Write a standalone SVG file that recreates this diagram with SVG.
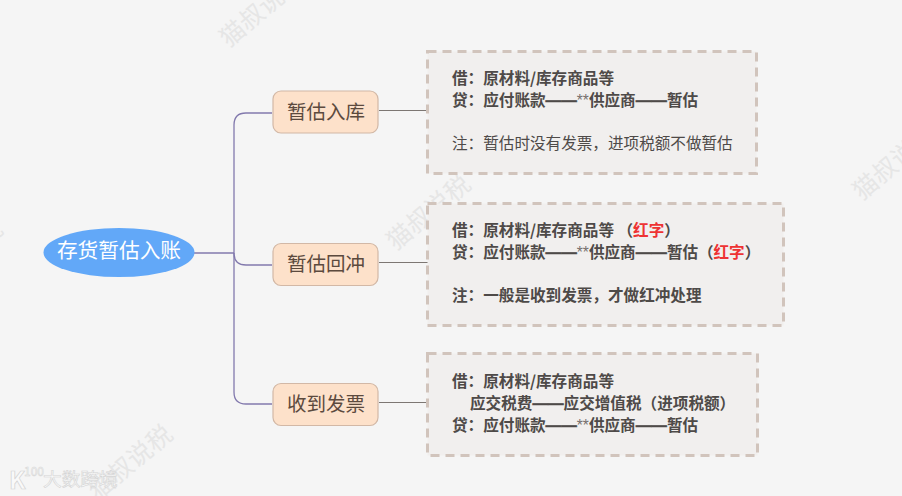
<svg xmlns="http://www.w3.org/2000/svg" width="902" height="496" viewBox="0 0 902 496">
<defs>
<style>
text{font-family:"Noto Sans CJK SC","Liberation Sans",sans-serif}
.wm{font-size:25px;fill:#e6e6e6;text-anchor:middle}
.note{fill:#f1efee;stroke:#d1c4bc;stroke-width:3;stroke-dasharray:9 6}
.t{font-size:15.6px;fill:#4e4a48;font-weight:700}
.n{font-size:15.6px;fill:#4e4a48;font-weight:400}
.r{fill:#ee3333}
.d{font-family:"Liberation Sans",sans-serif;stroke:#4e4a48;stroke-width:.4}
.s{font-family:"Liberation Sans",sans-serif;font-weight:400;fill:#77716e}
.topic{fill:#fde1ca;stroke:#d2b8a6;stroke-width:1.2}
.tt{font-size:19.5px;fill:#5c4a3e;text-anchor:middle}
.c1{fill:none;stroke:#8279ad;stroke-width:1.3}
.c2{fill:none;stroke:#7d7773;stroke-width:1.2}
.lg{fill:#f9f9f9;stroke:#d4d4d4}
</style>
</defs>
<rect width="902" height="496" fill="#f5f5f5"/>
<g id="watermarks">
<text class="wm" transform="translate(267 16) rotate(-40)">猫叔说税</text>
<text class="wm" transform="translate(434 219) rotate(-40)">猫叔说税</text>
<text class="wm" transform="translate(601 417) rotate(-40)">猫叔说税</text>
<text class="wm" transform="translate(900 169) rotate(-40)">猫叔说税</text>
<text class="wm" transform="translate(136 469) rotate(-40)">猫叔说税</text>
<text class="wm" transform="translate(-34 264) rotate(-40)">猫叔说税</text>
<text class="lg" x="43" y="486" font-size="18.700" stroke-width="0.6">大数跨境</text>
<text class="lg" x="9" y="489" font-size="24" font-weight="700" stroke-width="0.7">K</text>
<text class="lg" x="24" y="476" font-size="12" stroke-width="0.5">100</text>
</g>
<g id="connectors">
<path class="c1" d="M194 253H234"/>
<path class="c1" d="M272 113H246Q234 113 234 125V392Q234 404 246 404H272"/>
<path class="c1" d="M234 253Q234 265 246 265H272"/>
<path class="c2" d="M379 110.500H440"/>
<path class="c2" d="M379 262.500H440"/>
<path class="c2" d="M379 402.500H440"/>
</g>
<g id="root">
<ellipse cx="119" cy="252.500" rx="75.500" ry="24.500" fill="#62a8f8"/>
<text x="119" y="258" font-size="20.700" fill="#fff" text-anchor="middle">存货暂估入账</text>
</g>
<g id="topic1">
<rect class="topic" x="273" y="91" width="105" height="42" rx="8"/>
<text class="tt" x="326" y="119">暂估入库</text>
</g>
<g id="topic2">
<rect class="topic" x="273" y="243.500" width="105" height="42" rx="8"/>
<text class="tt" x="326" y="271">暂估回冲</text>
</g>
<g id="topic3">
<rect class="topic" x="273" y="383.500" width="105" height="42" rx="8"/>
<text class="tt" x="326" y="411">收到发票</text>
</g>
<g id="note1">
<rect class="note" x="427.500" y="51.500" width="329" height="122"/>
<text class="t" x="452" y="84">借：原材料/库存商品等</text>
<text class="t" x="452" y="106">贷：应付账款<tspan class="d">——</tspan><tspan class="s">**</tspan>供应商<tspan class="d">——</tspan>暂估</text>
<text class="n" x="452" y="149">注：暂估时没有发票，进项税额不做暂估</text>
</g>
<g id="note2">
<rect class="note" x="427.500" y="203.500" width="356" height="122"/>
<text class="t" x="452" y="236">借：原材料/库存商品等 （<tspan class="r">红字</tspan>）</text>
<text class="t" x="452" y="258">贷：应付账款<tspan class="d">——</tspan><tspan class="s">**</tspan>供应商<tspan class="d">——</tspan>暂估<tspan x="698">（</tspan><tspan class="r" x="713.500">红字</tspan><tspan x="744.700">）</tspan></text>
<text class="t" x="452" y="301">注：一般是收到发票，才做红冲处理</text>
</g>
<g id="note3">
<rect class="note" x="427.500" y="353.500" width="330" height="102"/>
<text class="t" x="452" y="387">借：原材料/库存商品等</text>
<text class="t" x="470" y="409">应交税费<tspan class="d">——</tspan>应交增值税<tspan x="641.600">（</tspan><tspan x="657.200">进项税额</tspan>）</text>
<text class="t" x="452" y="431">贷：应付账款<tspan class="d">——</tspan><tspan class="s">**</tspan>供应商<tspan class="d">——</tspan>暂估</text>
</g>
</svg>
